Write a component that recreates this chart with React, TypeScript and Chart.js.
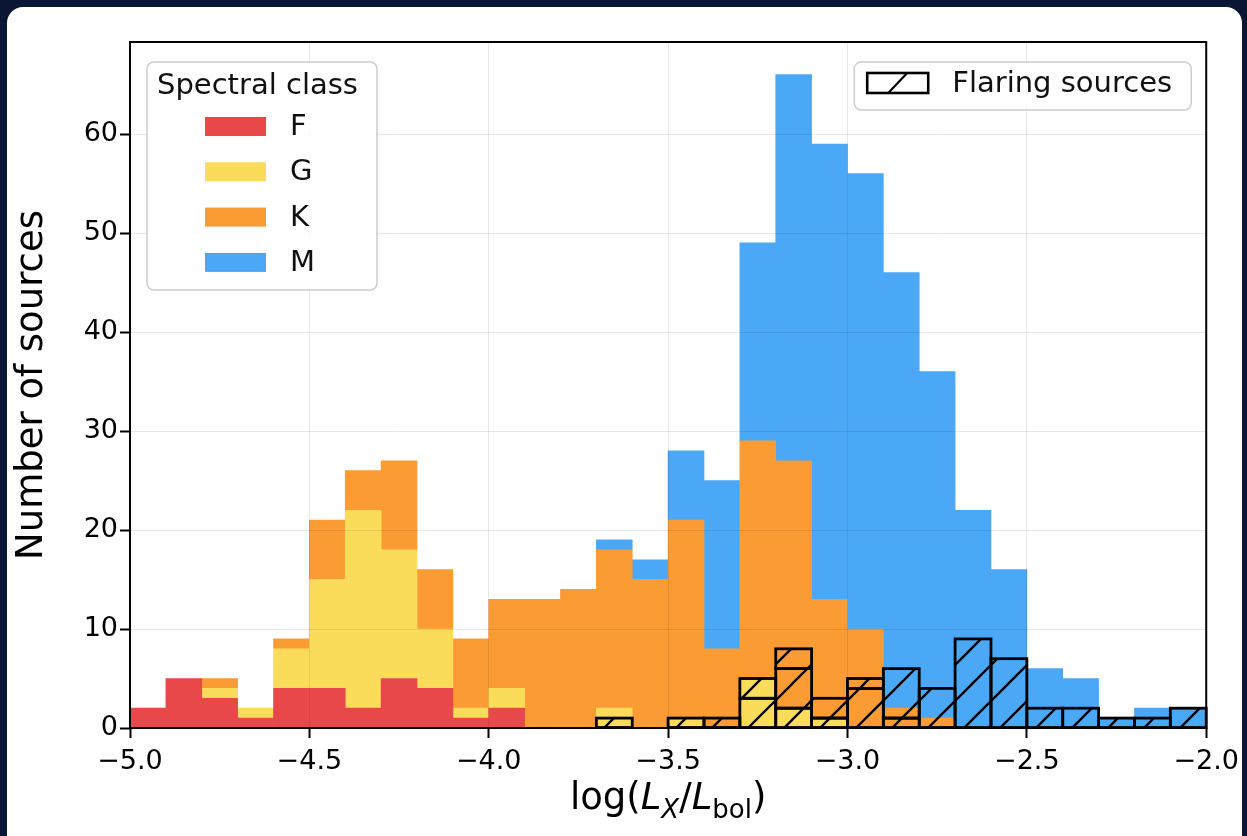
import { useEffect, useRef } from 'react';
import { Chart, registerables } from 'chart.js';

Chart.register(...registerables);

// ---- data (histogram, bins of 0.1 dex from -5.0 to -2.0) ----
const binStart = -5.0;
const binWidth = 0.1;
const classF = [2, 5, 3, 1, 4, 4, 2, 5, 4, 1, 2, 0, 0, 0, 0, 0, 0, 0, 0, 0, 0, 0, 0, 0, 0, 0, 0, 0, 0, 0];
const classG = [0, 0, 1, 1, 4, 11, 20, 13, 6, 1, 2, 0, 0, 2, 0, 1, 0, 5, 2, 1, 0, 0, 0, 0, 0, 0, 0, 0, 0, 0];
const classK = [0, 0, 1, 0, 1, 6, 4, 9, 6, 7, 9, 13, 14, 16, 15, 20, 8, 24, 25, 12, 10, 2, 1, 0, 0, 0, 0, 0, 0, 0];
const classM = [0, 0, 0, 0, 0, 0, 0, 0, 0, 0, 0, 0, 0, 1, 2, 7, 17, 20, 39, 46, 46, 44, 35, 22, 16, 6, 5, 1, 2, 2];
const flareG = [0, 0, 0, 0, 0, 0, 0, 0, 0, 0, 0, 0, 0, 1, 0, 1, 0, 3, 2, 1, 0, 0, 0, 0, 0, 0, 0, 0, 0, 0];
const flareK = [0, 0, 0, 0, 0, 0, 0, 0, 0, 0, 0, 0, 0, 0, 0, 0, 1, 2, 4, 2, 4, 1, 0, 0, 0, 0, 0, 0, 0, 0];
const flareM = [0, 0, 0, 0, 0, 0, 0, 0, 0, 0, 0, 0, 0, 0, 0, 0, 0, 0, 2, 0, 1, 5, 4, 9, 7, 2, 2, 1, 1, 2];
const classLabels = ['F', 'G', 'K', 'M'];
const classColors = ['#e8484a', '#fbdc5a', '#fa9b33', '#4aa8f6'];
const xTicks = [-5.0, -4.5, -4.0, -3.5, -3.0, -2.5, -2.0];
const yTicks = [0, 10, 20, 30, 40, 50, 60];
const xMin = -5.0;
const xMax = -2.0;
const yMax = 69.3;

const FONT = "'DejaVu Sans', 'Liberation Sans', sans-serif";

function makeHatch(size: number, lw: number) {
  const c = document.createElement('canvas');
  c.width = size;
  c.height = size;
  const g = c.getContext('2d')!;
  g.strokeStyle = '#000';
  g.lineWidth = lw;
  g.beginPath();
  g.moveTo(-lw, size + lw);
  g.lineTo(size + lw, -lw);
  g.moveTo(-lw, lw);
  g.lineTo(lw, -lw);
  g.moveTo(size - lw, size + lw);
  g.lineTo(size + lw, size - lw);
  g.stroke();
  return g.createPattern(c, 'repeat')!;
}

function rrect(ctx: CanvasRenderingContext2D, x: number, y: number, w: number, h: number, r: number) {
  ctx.beginPath();
  ctx.moveTo(x + r, y);
  ctx.lineTo(x + w - r, y);
  ctx.arcTo(x + w, y, x + w, y + r, r);
  ctx.lineTo(x + w, y + h - r);
  ctx.arcTo(x + w, y + h, x + w - r, y + h, r);
  ctx.lineTo(x + r, y + h);
  ctx.arcTo(x, y + h, x, y + h - r, r);
  ctx.lineTo(x, y + r);
  ctx.arcTo(x, y, x + r, y, r);
  ctx.closePath();
}

const overlayPlugin = {
  id: 'overlay',
  afterDatasetsDraw(chart: any) {
    const ctx: CanvasRenderingContext2D = chart.ctx;
    ctx.save();
    ctx.strokeStyle = '#000';
    ctx.lineWidth = 2.8;
    chart.data.datasets.forEach((ds: any, di: number) => {
      if (ds.stack !== 'flare') return;
      const meta = chart.getDatasetMeta(di);
      meta.data.forEach((el: any, i: number) => {
        if (ds.data[i].y == null) return;
        const p = el.getProps(['x', 'y', 'base', 'width'], true);
        ctx.strokeRect(p.x - p.width / 2, p.y, p.width, p.base - p.y);
      });
    });
    ctx.restore();
  },
  afterDraw(chart: any) {
    const ctx: CanvasRenderingContext2D = chart.ctx;
    const a = chart.chartArea;
    ctx.save();
    // frame
    ctx.strokeStyle = '#000';
    ctx.lineWidth = 2;
    ctx.strokeRect(a.left, a.top, a.right - a.left, a.bottom - a.top);

    // x-axis title: log(L_X/L_bol)
    const fs = 37;
    const sub = 26;
    const parts: { t: string; f: string; dy: number }[] = [
      { t: 'log(', f: `${fs}px ${FONT}`, dy: 0 },
      { t: 'L', f: `oblique ${fs}px ${FONT}`, dy: 0 },
      { t: 'X', f: `oblique ${sub}px ${FONT}`, dy: 9 },
      { t: '/', f: `${fs}px ${FONT}`, dy: 0 },
      { t: 'L', f: `oblique ${fs}px ${FONT}`, dy: 0 },
      { t: 'bol', f: `${sub}px ${FONT}`, dy: 9 },
      { t: ')', f: `${fs}px ${FONT}`, dy: 0 },
    ];
    let total = 0;
    const widths = parts.map((p) => {
      ctx.font = p.f;
      const w = ctx.measureText(p.t).width;
      total += w;
      return w;
    });
    let cx = (a.left + a.right) / 2 - total / 2;
    const baseY = a.bottom + 81;
    ctx.fillStyle = '#000';
    ctx.textBaseline = 'alphabetic';
    ctx.textAlign = 'left';
    parts.forEach((p, i) => {
      ctx.font = p.f;
      ctx.fillText(p.t, cx, baseY + p.dy);
      cx += widths[i];
    });

    // legend 1: Spectral class
    const lx = a.left + 17;
    const ly = a.top + 20;
    rrect(ctx, lx, ly, 230, 228, 7);
    ctx.fillStyle = 'rgba(255,255,255,0.8)';
    ctx.fill();
    ctx.strokeStyle = '#cccccc';
    ctx.lineWidth = 1.5;
    ctx.stroke();
    ctx.fillStyle = '#111';
    ctx.font = `29px ${FONT}`;
    ctx.fillText('Spectral class', lx + 10, ly + 32);
    classLabels.forEach((lab, k) => {
      const cy = a.top + 84.5 + k * 45.3;
      ctx.fillStyle = classColors[k];
      ctx.fillRect(lx + 58, cy - 9.5, 61, 19);
      ctx.fillStyle = '#111';
      ctx.textBaseline = 'middle';
      ctx.fillText(lab, lx + 143, cy + 1);
      ctx.textBaseline = 'alphabetic';
    });

    // legend 2: Flaring sources
    const bw = 337;
    const bx = a.right - 352;
    const by = a.top + 20;
    rrect(ctx, bx, by, bw, 48, 7);
    ctx.fillStyle = 'rgba(255,255,255,0.8)';
    ctx.fill();
    ctx.strokeStyle = '#cccccc';
    ctx.lineWidth = 1.5;
    ctx.stroke();
    const px = bx + 13;
    const py = by + 11;
    ctx.strokeStyle = '#000';
    ctx.lineWidth = 2.6;
    ctx.strokeRect(px, py, 61, 20);
    ctx.lineWidth = 2.2;
    ctx.beginPath();
    ctx.moveTo(px + 21, py + 20);
    ctx.lineTo(px + 40, py);
    ctx.stroke();
    ctx.fillStyle = '#111';
    ctx.font = `29px ${FONT}`;
    ctx.textBaseline = 'middle';
    ctx.fillText('Flaring sources', px + 85, py + 11);
    ctx.restore();
  },
};

export default function App() {
  const ref = useRef<HTMLCanvasElement>(null);

  useEffect(() => {
    const canvas = ref.current!;
    const hatch = makeHatch(36, 2.3);
    const centers = classF.map((_, i) => Math.round((binStart + binWidth * (i + 0.5)) * 100) / 100);
    const pts = (arr: number[]) => arr.map((v, i) => ({ x: centers[i], y: v > 0 ? v : null }));
    const common = {
      grouped: false,
      barPercentage: 1,
      categoryPercentage: 1,
      borderWidth: 0,
    };
    const datasets: any[] = [
      { label: 'Flaring G', data: pts(flareG), stack: 'flare', backgroundColor: hatch, ...common, inflateAmount: 0 },
      { label: 'Flaring K', data: pts(flareK), stack: 'flare', backgroundColor: hatch, ...common, inflateAmount: 0 },
      { label: 'Flaring M', data: pts(flareM), stack: 'flare', backgroundColor: hatch, ...common, inflateAmount: 0 },
      { label: 'F', data: pts(classF), stack: 'all', backgroundColor: classColors[0], ...common },
      { label: 'G', data: pts(classG), stack: 'all', backgroundColor: classColors[1], ...common },
      { label: 'K', data: pts(classK), stack: 'all', backgroundColor: classColors[2], ...common },
      { label: 'M', data: pts(classM), stack: 'all', backgroundColor: classColors[3], ...common },
    ];

    const chart = new Chart(canvas, {
      type: 'bar',
      data: { datasets },
      plugins: [overlayPlugin],
      options: {
        animation: false,
        responsive: true,
        maintainAspectRatio: false,
        devicePixelRatio: 1,
        events: [],
        layout: { padding: { left: 0, top: 42, right: 40, bottom: 0 } },
        plugins: { legend: { display: false }, tooltip: { enabled: false } },
        scales: {
          x: {
            type: 'linear',
            min: xMin,
            max: xMax,
            offset: false,
            stacked: true,
            afterFit: (s: any) => {
              s.height = 108;
            },
            afterBuildTicks: (s: any) => {
              s.ticks = xTicks.map((v) => ({ value: v }));
            },
            ticks: {
              autoSkip: false,
              maxRotation: 0,
              padding: 8,
              color: '#000',
              font: { family: FONT, size: 27 },
              callback: (v: any) => Number(v).toFixed(1).replace('-', '\u2212'),
            },
            grid: {
              offset: false,
              z: 1,
              color: 'rgba(0,0,0,0.09)',
              lineWidth: 1,
              drawTicks: true,
              tickLength: 10,
              tickWidth: 2,
              tickColor: '#000',
            },
            border: { display: false },
          },
          y: {
            type: 'linear',
            min: 0,
            max: yMax,
            stacked: true,
            afterFit: (s: any) => {
              s.width = 130;
            },
            afterBuildTicks: (s: any) => {
              s.ticks = yTicks.map((v) => ({ value: v }));
            },
            ticks: {
              padding: 2,
              color: '#000',
              font: { family: FONT, size: 27 },
            },
            grid: {
              z: 1,
              color: 'rgba(0,0,0,0.09)',
              lineWidth: 1,
              drawTicks: true,
              tickLength: 10,
              tickWidth: 2,
              tickColor: '#000',
            },
            border: { display: false },
            title: {
              display: true,
              text: 'Number of sources',
              color: '#000',
              font: { family: FONT, size: 37, lineHeight: 1 },
              padding: { top: 14, bottom: 0 },
            },
          },
        },
      } as any,
    });
    return () => chart.destroy();
  }, []);

  return (
    <>
      <div style={{ position: 'fixed', inset: 0, background: '#0b1635' }} />
      <div
        style={{
          position: 'fixed',
          left: 7,
          top: 7,
          width: 1235,
          height: 860,
          background: '#ffffff',
          borderRadius: 16,
        }}
      />
      <div style={{ position: 'fixed', left: 0, top: 0, width: 1247, height: 836 }}>
        <canvas ref={ref} />
      </div>
    </>
  );
}
